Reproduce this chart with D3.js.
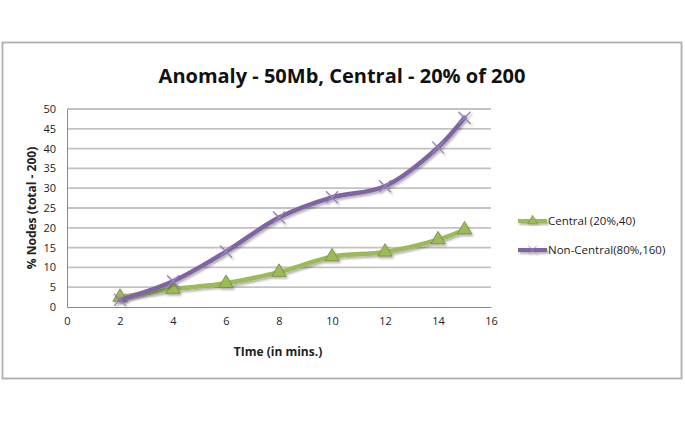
<!DOCTYPE html>
<html>
<head>
<meta charset="utf-8">
<script src="https://cdn.jsdelivr.net/npm/d3@7"></script>
<style>
  body { margin: 0; background: #fff; }
  text { font-family: "Open Sans", "DejaVu Sans", sans-serif; fill: #222; }
</style>
</head>
<body>
<div id="chart"></div>
<script>
// values
var times = [2, 4, 6, 8, 10, 12, 14, 15];
var central = [2.5, 4.5, 6, 8.8, 12.7, 13.9, 17, 19.5];
var nonCentral = [1.8, 6.5, 14, 22.6, 27.7, 30.5, 40.3, 47.8];
var seriesNames = ['Central (20%,40)', 'Non-Central(80%,160)'];
var xTicks = [0, 2, 4, 6, 8, 10, 12, 14, 16];
var yTicks = [0, 5, 10, 15, 20, 25, 30, 35, 40, 45, 50];

var W = 685, H = 422;
var plot = {left: 67, right: 491, top: 109, bottom: 307};

var svg = d3.select('#chart').append('svg')
    .attr('width', W)
    .attr('height', H);

var defs = svg.append('defs');
var f = defs.append('filter').attr('id', 'shadow')
    .attr('x', '-20%').attr('y', '-20%').attr('width', '140%').attr('height', '140%');
f.append('feDropShadow').attr('dx', 1.5).attr('dy', 2).attr('stdDeviation', 1.2)
    .attr('flood-color', '#000').attr('flood-opacity', 0.3);

// outer frame
svg.append('rect')
    .attr('x', 2.5).attr('y', 42.5)
    .attr('width', 679).attr('height', 336)
    .attr('fill', '#fff')
    .attr('stroke', '#b0b0b0')
    .attr('stroke-width', 1.8);

svg.append('text')
    .attr('x', 342).attr('y', 83)
    .attr('text-anchor', 'middle')
    .style('font-size', '20px')
    .style('font-weight', 700)
    .style('fill', '#111')
    .text('Anomaly - 50Mb, Central - 20% of 200');

var x = d3.scaleLinear().domain([0, 16]).range([plot.left, plot.right]);
var y = d3.scaleLinear().domain([0, 50]).range([plot.bottom, plot.top]);

// gridlines
svg.append('g')
    .selectAll('line')
    .data(yTicks.slice(1))
    .join('line')
    .attr('x1', plot.left).attr('x2', plot.right)
    .attr('y1', function(d) { return y(d); })
    .attr('y2', function(d) { return y(d); })
    .attr('stroke', '#c2c2c2')
    .attr('stroke-width', 1.8);

// axes
var yAxis = svg.append('g')
    .attr('transform', 'translate(' + plot.left + ',0)')
    .call(d3.axisLeft(y).tickValues(yTicks).tickSize(0).tickPadding(11));
var xAxis = svg.append('g')
    .attr('transform', 'translate(0,' + plot.bottom + ')')
    .call(d3.axisBottom(x).tickValues(xTicks).tickSize(0).tickPadding(10));
[xAxis, yAxis].forEach(function(a) {
  a.select('.domain').attr('stroke', '#8a8a8a').attr('stroke-width', 1);
  a.selectAll('text').style('font-size', '11px').style('font-family', '"Open Sans", sans-serif').attr('fill', '#222');
});

svg.append('text')
    .attr('x', 278).attr('y', 356)
    .attr('text-anchor', 'middle')
    .style('font-size', '12px')
    .style('font-weight', 700)
    .text('TIme (in mins.)');

svg.append('text')
    .attr('transform', 'translate(36,' + ((plot.top + plot.bottom) / 2) + ') rotate(-90)')
    .attr('text-anchor', 'middle')
    .style('font-size', '12px')
    .style('font-weight', 700)
    .text('% Nodes (total - 200)');

var line = d3.line()
    .x(function(d) { return x(d[0]); })
    .y(function(d) { return y(d[1]); })
    .curve(d3.curveCatmullRom.alpha(0.5));

var series = [
  {name: seriesNames[0], values: d3.zip(times, central), color: '#9bbb59', edge: '#6f8a3a', marker: 'tri'},
  {name: seriesNames[1], values: d3.zip(times, nonCentral), color: '#8064a2', edge: '#5d4680', marker: 'x'}
];

var triangle = d3.symbol().type(d3.symbolTriangle).size(90);

function drawMarker(g, s) {
  if (s.marker === 'tri') {
    g.append('path')
        .attr('d', triangle)
        .attr('fill', s.color)
        .attr('stroke', s.edge)
        .attr('stroke-width', 0.8);
  } else {
    g.append('path')
        .attr('d', 'M-6,-6L6,6M-6,6L6,-6')
        .attr('stroke', '#9580b8')
        .attr('stroke-width', 1.3);
  }
}

series.forEach(function(s) {
  var g = svg.append('g').attr('filter', 'url(#shadow)');
  g.append('path')
      .datum(s.values)
      .attr('d', line)
      .attr('fill', 'none')
      .attr('stroke', s.color)
      .attr('stroke-width', 4.5)
      .attr('stroke-linecap', 'round');
  g.selectAll('g.m')
      .data(s.values)
      .join('g')
      .attr('class', 'm')
      .attr('transform', function(d) { return 'translate(' + x(d[0]) + ',' + y(d[1]) + ')'; })
      .each(function() { drawMarker(d3.select(this), s); });
});

// legend
var legend = svg.append('g');
series.forEach(function(s, i) {
  var ly = 221 + i * 29;
  var lg = legend.append('g').attr('filter', 'url(#shadow)');
  lg.append('line')
      .attr('x1', 518).attr('x2', 547)
      .attr('y1', ly).attr('y2', ly)
      .attr('stroke', s.color)
      .attr('stroke-width', 4);
  var m = lg.append('g').attr('transform', 'translate(532.5,' + ly + ') scale(0.7)');
  drawMarker(m, s);
  legend.append('text')
      .attr('x', 548).attr('y', ly + 4)
      .style('font-size', '11.5px')
      .text(s.name);
});
</script>
</body>
</html>
